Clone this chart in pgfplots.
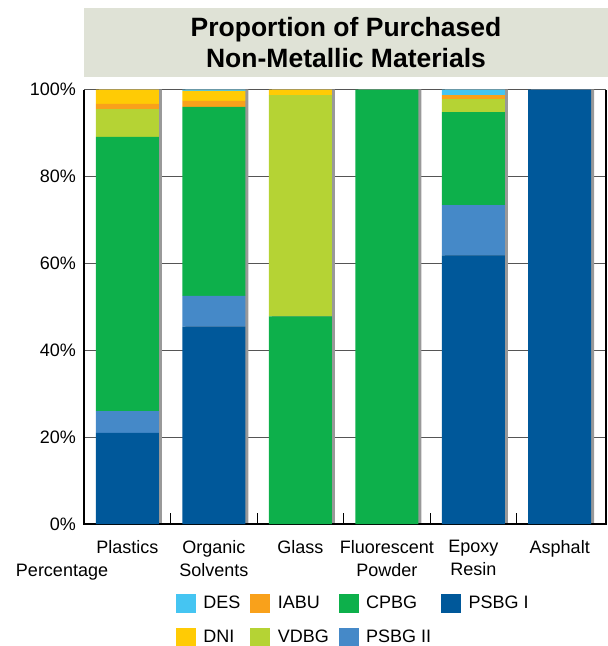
\documentclass[border=0pt]{standalone}
\usepackage{pgfplots}
\pgfplotsset{compat=1.18}
\usepackage{fontspec}
\setmainfont{Liberation Sans}

\definecolor{desC}{HTML}{45C5F2}
\definecolor{iabuC}{HTML}{F9A11B}
\definecolor{cpbgC}{HTML}{0DB04B}
\definecolor{psbgOneC}{HTML}{00589A}
\definecolor{dniC}{HTML}{FFCB05}
\definecolor{vdbgC}{HTML}{B5D334}
\definecolor{psbgTwoC}{HTML}{4589C8}
\definecolor{shadowC}{HTML}{999999}
\definecolor{titleBg}{HTML}{DFE2D6}
\definecolor{gridC}{HTML}{555555}

\newcommand\lbl{\fontsize{18}{23}\selectfont}
\newcommand\sqleg[1]{\addlegendimage{legend image code/.code={\fill[#1] (0pt,-9pt) rectangle (19pt,9pt);}}}

\pgfplotsset{
  frame/.style={
    at={(0pt,0pt)}, anchor=south west,
    scale only axis, width=522pt, height=434.5pt,
    xmin=-0.503, xmax=5.535, ymin=0, ymax=100,
    axis line style={draw=none},
  }
}

\begin{document}
\begin{tikzpicture}
\useasboundingbox (-84pt,-122pt) rectangle (524pt,524pt);

% title banner
\fill[titleBg] (0pt,447pt) rectangle (524pt,516pt);
\node[align=center, font=\bfseries\fontsize{26.5}{31}\selectfont, inner sep=0pt]
  at (262pt,481.5pt) {Proportion of Purchased\\Non-Metallic Materials};

% background: horizontal grid and bar shadows
\begin{axis}[frame,
  xtick=\empty,
  ytick={20,40,60,80,100}, yticklabels={},
  major tick length=0pt,
  ymajorgrids, major grid style={gridC, line width=0.9pt},
]
\addplot[ybar, bar width=63pt, bar shift=3pt, fill=shadowC, draw=none]
  coordinates {(0,100) (1,100) (2,100) (3,100) (4,100) (5,100)};
\end{axis}

% stacked shares
\begin{axis}[frame,
  ybar stacked, bar width=63pt, clip=false,
  tick pos=left,
  xtick={0,1,2,3,4,5},
  xticklabels={Plastics, Organic\\Solvents, Glass, Fluorescent\\Powder, Epoxy\\Resin, Asphalt},
  xticklabel style={font=\lbl, align=center, anchor=north, inner sep=0pt, yshift=-16pt},
  minor xtick={0.5,1.5,2.5,3.5,4.5},
  major tick length=0pt, minor tick length=11pt,
  minor tick style={black, line width=1pt},
  ytick={0,20,40,60,80,100},
  yticklabels={0\%,20\%,40\%,60\%,80\%,100\%},
  yticklabel style={font=\lbl, anchor=east, inner sep=0pt, xshift=-8pt},
  legend columns=4,
  legend cell align=left,
  legend style={draw=none, fill=none, inner sep=0pt, outer sep=0pt,
    at={(0.17625,-0.1611)}, anchor=north west,
    font=\lbl, row sep=15.5pt, column sep=8pt,
    nodes={inner sep=0pt},
    /tikz/every even column/.append style={column sep=10pt}},
]
\sqleg{desC}\addlegendentry{DES}
\sqleg{iabuC}\addlegendentry{IABU}
\sqleg{cpbgC}\addlegendentry{CPBG}
\sqleg{psbgOneC}\addlegendentry{PSBG I}
\sqleg{dniC}\addlegendentry{DNI}
\sqleg{vdbgC}\addlegendentry{VDBG}
\sqleg{psbgTwoC}\addlegendentry{PSBG II}

% order: Plastics, Organic Solvents, Glass, Fluorescent Powder, Epoxy Resin, Asphalt
\addplot[fill=psbgOneC, draw=none] coordinates {(0,21.0) (1,45.4) (2,0) (3,0) (4,61.8) (5,100)};
\addplot[fill=psbgTwoC, draw=none] coordinates {(0,5.0) (1,7.1) (2,0) (3,0) (4,11.6) (5,0)};
\addplot[fill=cpbgC, draw=none] coordinates {(0,63.1) (1,43.5) (2,47.8) (3,100) (4,21.4) (5,0)};
\addplot[fill=vdbgC, draw=none] coordinates {(0,6.4) (1,0) (2,50.9) (3,0) (4,3.0) (5,0)};
\addplot[fill=iabuC, draw=none] coordinates {(0,1.2) (1,1.4) (2,0) (3,0) (4,0.9) (5,0)};
\addplot[fill=dniC, draw=none] coordinates {(0,3.3) (1,2.3) (2,1.3) (3,0) (4,0) (5,0)};
\addplot[fill=desC, draw=none] coordinates {(0,0) (1,0.3) (2,0) (3,0) (4,1.3) (5,0)};

\draw[black, line width=1.2pt] (rel axis cs:0,1) -- (rel axis cs:0,0) -- (rel axis cs:1,0) -- (rel axis cs:1,1);
\node[font=\lbl, inner sep=0pt] at (rel axis cs:-0.0421,-0.1098) {Percentage};
\end{axis}
\end{tikzpicture}
\end{document}
